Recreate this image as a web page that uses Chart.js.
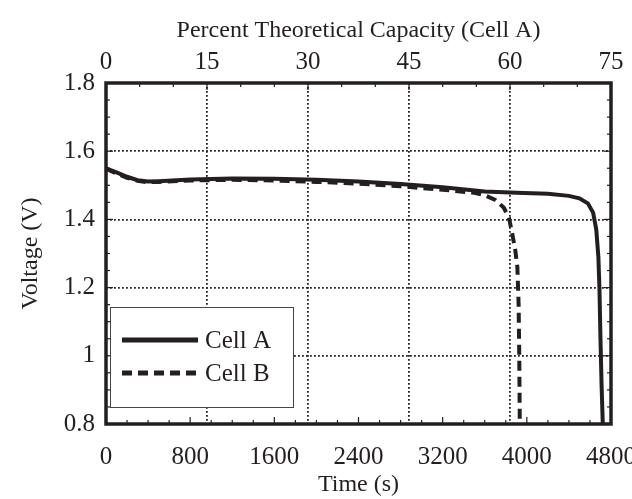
<!DOCTYPE html>
<html>
<head>
<meta charset="utf-8">
<script src="https://cdn.jsdelivr.net/npm/chart.js@4.4.0/dist/chart.umd.min.js"></script>
<style>
  html, body { margin: 0; padding: 0; background: #fff; }
</style>
</head>
<body>
<canvas id="dischargeChart" width="632" height="499"></canvas>
<script>
// discharge curves
const cellATime = [0, 100, 200, 300, 400, 500, 800, 1200, 1600, 2000, 2400, 2800, 3200, 3600, 3900, 4200, 4400, 4500, 4580, 4630, 4660, 4680, 4690, 4700, 4710, 4722];
const cellAVolt = [1.550, 1.538, 1.525, 1.515, 1.511, 1.512, 1.517, 1.520, 1.519, 1.516, 1.511, 1.504, 1.494, 1.482, 1.478, 1.475, 1.469, 1.462, 1.447, 1.420, 1.370, 1.290, 1.200, 1.050, 0.920, 0.800];
const cellBTime = [0, 100, 200, 300, 400, 500, 800, 1200, 1600, 2000, 2400, 2800, 3200, 3500, 3600, 3700, 3780, 3830, 3860, 3890, 3910, 3922, 3928, 3933];
const cellBVolt = [1.548, 1.535, 1.522, 1.513, 1.509, 1.510, 1.514, 1.516, 1.514, 1.510, 1.505, 1.497, 1.487, 1.478, 1.471, 1.457, 1.435, 1.405, 1.360, 1.310, 1.260, 1.150, 1.000, 0.800];

const timeTicks = [0, 800, 1600, 2400, 3200, 4000, 4800];
const capacityTicks = [0, 15, 30, 45, 60, 75];
const voltageTicks = [0.8, 1, 1.2, 1.4, 1.6, 1.8];

const INK = '#231f20';
const FAMILY = "'Liberation Serif', 'Times New Roman', serif";
const FONT = { family: FAMILY, size: 25 };
const TITLE_FONT = { family: FAMILY, size: 24 };

const toPoints = (xs, ys) => xs.map((x, i) => ({ x: x, y: ys[i] }));
const setTicks = (list) => (scale) => { scale.ticks = list.map(v => ({ value: v })); };
const hideEdges = (lo, hi) => (ctx) => (ctx.tick && (ctx.tick.value === lo || ctx.tick.value === hi)) ? 'rgba(0,0,0,0)' : INK;
const plain = (v) => String(+Number(v).toFixed(2));

// frame, inward ticks and boxed legend
const framePlugin = {
    id: 'frame',
    afterDraw(chart) {
        const { ctx, chartArea: a, scales } = chart;
        ctx.save();
        ctx.strokeStyle = INK;
        ctx.fillStyle = INK;

        // ticks
        ctx.lineWidth = 1.2;
        const tick = (scale, value, len, side) => {
            const p = scale.getPixelForValue(value);
            ctx.beginPath();
            if (side === 'bottom') { ctx.moveTo(p, a.bottom); ctx.lineTo(p, a.bottom - len); }
            if (side === 'top') { ctx.moveTo(p, a.top); ctx.lineTo(p, a.top + len); }
            if (side === 'left') { ctx.moveTo(a.left, p); ctx.lineTo(a.left + len, p); }
            if (side === 'right') { ctx.moveTo(a.right, p); ctx.lineTo(a.right - len, p); }
            ctx.stroke();
        };
        for (let t = 0; t <= 4800; t += 200) tick(scales.x, t, t % 800 === 0 ? 7 : 4, 'bottom');
        for (let c = 0; c <= 75; c += 5) tick(scales.x2, c, c % 15 === 0 ? 7 : 4, 'top');
        for (let k = 0; k <= 20; k++) {
            const v = 0.8 + k * 0.05;
            tick(scales.y, v, k % 4 === 0 ? 7 : 4, 'left');
            tick(scales.y, v, k % 4 === 0 ? 7 : 4, 'right');
        }

        // plot frame
        ctx.lineWidth = 3.5;
        ctx.strokeRect(a.left, a.top, a.right - a.left, a.bottom - a.top);

        // legend
        const bx = a.left + 4, by = a.bottom - 117;
        ctx.lineWidth = 1;
        ctx.strokeStyle = '#444';
        ctx.fillStyle = '#fff';
        ctx.fillRect(bx, by, 183, 100);
        ctx.strokeRect(bx + 0.5, by + 0.5, 183, 100);

        ctx.strokeStyle = INK;
        ctx.fillStyle = INK;
        ctx.font = FONT.size + 'px ' + FAMILY;
        ctx.textBaseline = 'middle';
        chart.data.datasets.forEach((ds, i) => {
            const ly = a.bottom - 84 + i * 33;
            ctx.lineWidth = 5;
            ctx.setLineDash(ds.borderDash || []);
            ctx.beginPath();
            ctx.moveTo(a.left + 16, ly);
            ctx.lineTo(a.left + 92, ly);
            ctx.stroke();
            ctx.setLineDash([]);
            ctx.fillText(ds.label, a.left + 99, ly + 1);
        });
        ctx.restore();
    }
};

new Chart(document.getElementById('dischargeChart'), {
    type: 'line',
    data: {
        datasets: [
            { label: 'Cell A', data: toPoints(cellATime, cellAVolt), borderColor: INK, borderWidth: 4, pointRadius: 0, tension: 0, fill: false },
            { label: 'Cell B', data: toPoints(cellBTime, cellBVolt), borderColor: INK, borderWidth: 4, borderDash: [10, 6], pointRadius: 0, tension: 0, fill: false }
        ]
    },
    options: {
        responsive: false,
        animation: false,
        devicePixelRatio: 1,
        layout: { padding: { left: 0, right: 21, top: 0, bottom: 0 } },
        plugins: { legend: { display: false }, tooltip: { enabled: false } },
        scales: {
            x: {
                type: 'linear', position: 'bottom', min: 0, max: 4800,
                afterBuildTicks: setTicks(timeTicks),
                grid: { display: false },
                border: { display: false },
                ticks: { color: INK, font: FONT, padding: 10, maxRotation: 0, autoSkip: false, callback: plain },
                title: { display: true, text: 'Time (s)', color: INK, font: TITLE_FONT, padding: { top: 0, bottom: 0 } },
                afterFit(s) { s.height = 75; s.paddingLeft = 0; s.paddingRight = 0; }
            },
            x2: {
                type: 'linear', position: 'top', min: 0, max: 75,
                afterBuildTicks: setTicks(capacityTicks),
                grid: { color: hideEdges(0, 75), lineWidth: 1.8, drawTicks: false },
                border: { display: false, dash: [1.8, 2.2] },
                ticks: { color: INK, font: FONT, padding: 6, maxRotation: 0, autoSkip: false, callback: plain },
                title: { display: true, text: 'Percent Theoretical Capacity (Cell A)', color: INK, font: TITLE_FONT, padding: { top: 16, bottom: 0 } },
                afterFit(s) { s.height = 83; s.paddingLeft = 0; s.paddingRight = 0; }
            },
            y: {
                type: 'linear', position: 'left', min: 0.8, max: 1.8,
                afterBuildTicks: setTicks(voltageTicks),
                grid: { color: hideEdges(0.8, 1.8), lineWidth: 1.8, drawTicks: false },
                border: { display: false, dash: [1.8, 2.2] },
                ticks: { color: INK, font: FONT, padding: 11, callback: plain },
                title: { display: true, text: 'Voltage (V)', color: INK, font: TITLE_FONT, padding: { top: 16, bottom: 0 } },
                afterFit(s) { s.width = 106; s.paddingTop = 0; s.paddingBottom = 0; }
            }
        }
    },
    plugins: [framePlugin]
});
</script>
</body>
</html>
